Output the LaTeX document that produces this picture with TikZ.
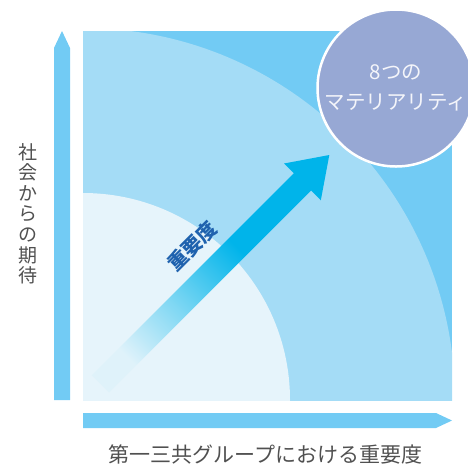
\documentclass[tikz,border=0pt]{standalone}
\usepackage{fontspec}
\newfontfamily\jp{Noto Sans CJK JP}
\definecolor{cDark}{HTML}{72CBF4}
\definecolor{cMid}{HTML}{A4DCF6}
\definecolor{cLight}{HTML}{E6F4FB}
\definecolor{cArrow}{HTML}{00B4EA}
\definecolor{cCircle}{HTML}{97A8D4}
\definecolor{cCircleText}{HTML}{F4F5FA}
\definecolor{cGray}{HTML}{505050}
\definecolor{cBlue}{HTML}{1F62AE}
\colorlet{cArrowA}{cArrow!3!cLight}
\colorlet{cArrowB}{cArrow!45!cLight}
\pgfdeclareverticalshading{arrowshade}{100bp}{color(0bp)=(cArrowA); color(25bp)=(cArrowA); color(40bp)=(cArrowB); color(58bp)=(cArrow); color(100bp)=(cArrow)}
\tikzset{
  axisarrow/.style={fill=cDark},
  labeltext/.style={text=cGray, inner sep=0pt},
}
\begin{document}
\begin{tikzpicture}[x=1pt,y=-1pt]
\useasboundingbox (0,0) rectangle (468,467);
\begin{scope}
\clip (0,0) rectangle (468,467);
% background quadrants
\fill[cDark] (83,31) rectangle (452,400);
\begin{scope}
  \clip (83,31) rectangle (452,400);
  \fill[cMid] (83,400) circle[radius=372];
  \fill[cLight] (83,400) circle[radius=207];
\end{scope}
% axes arrows
\fill[axisarrow] (54,400) -- (54,48) -- (62,31) -- (70,48) -- (70,400) -- cycle;
\fill[axisarrow] (83,413) -- (436,413) -- (452,420.5) -- (436,428) -- (83,428) -- cycle;
% importance arrow
\shade[shading=arrowshade, shading angle=-45]
  (91.9,375.2) -- (293.8,173.2) -- (284.0,163.5) -- (329.3,155) --
  (320.8,200.3) -- (311.1,190.5) -- (109.1,392.4) -- cycle;
\node[font=\jp\bfseries\fontsize{20}{20}\selectfont, text=cBlue, rotate=45, inner sep=0pt] (imp) at (192,246) {重要度};
% materiality circle
\node[circle, fill=cCircle, draw=white, line width=2.5pt, minimum size=157pt, inner sep=0pt,
      align=center, text=cCircleText, font=\jp\fontsize{20.5}{30}\selectfont] (mat) at (396,88) {8つの\\マテリアリティ};
% labels
\node[labeltext, align=center, font=\jp\fontsize{19}{20.6}\selectfont] (ylab) at (27.5,213.7) {社\\会\\か\\ら\\の\\期\\待};
\node[labeltext, font=\jp\fontsize{21}{21}\selectfont] (xlab) at (265.5,454) {第一三共グループにおける重要度};
\end{scope}
\end{tikzpicture}
\end{document}
